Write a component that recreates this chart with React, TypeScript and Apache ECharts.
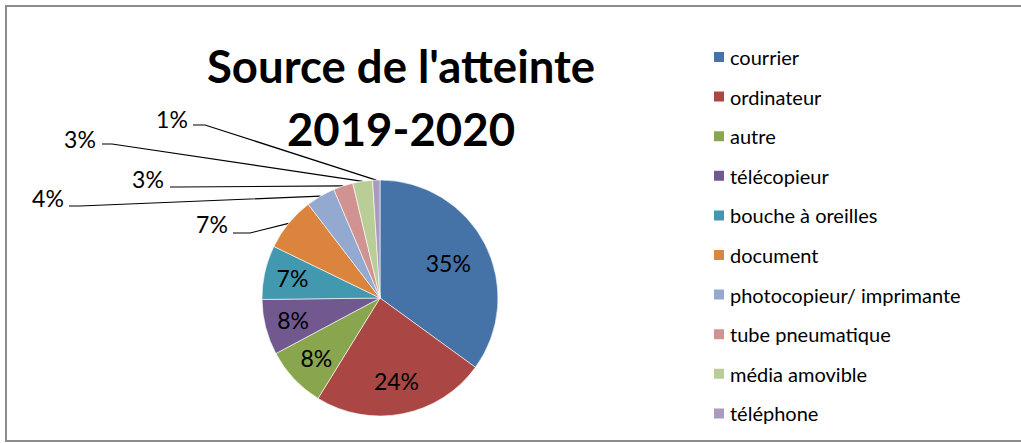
import React, { useEffect, useRef } from "react";
import * as echarts from "echarts";

const categories = [
  "courrier",
  "ordinateur",
  "autre",
  "télécopieur",
  "bouche à oreilles",
  "document",
  "photocopieur/ imprimante",
  "tube pneumatique",
  "média amovible",
  "téléphone",
];
const values = [35.0, 23.8, 8.4, 7.6, 7.4, 7.4, 4.0, 2.7, 2.7, 1.0];
const colors = [
  "#4572A7",
  "#AA4643",
  "#89A54E",
  "#71588F",
  "#4198AF",
  "#DB843D",
  "#93A9CF",
  "#D19392",
  "#B9CD96",
  "#A99BBD",
];
const titleLines = ["Source de l'atteinte", "2019-2020"];

// layout settings (not data)
const CX = 380;
const CY = 298;
const R = 118;
const insideRatio = [0.65, 0.72, 0.74, 0.76, 0.76];
// outside label: [labelCenterX, labelCenterY, lineStartX, bendX, lineY]
const outsideLabels: Record<number, number[]> = {
  5: [212, 224, 233, 250, 233],
  6: [48, 198, 69, 80, 206],
  7: [148, 179, 170, 178, 187],
  8: [80, 139, 102, 112, 144],
  9: [172, 119, 193, 205, 125],
};

export default function App() {
  const ref = useRef<HTMLDivElement>(null);
  useEffect(() => {
    if (!ref.current) return;
    const chart = echarts.init(ref.current, undefined, { renderer: "svg" });
    const total = values.reduce((a, b) => a + b, 0);
    const mids: number[] = [];
    let acc = 0;
    values.forEach((v) => {
      mids.push(((acc + v / 2) / total) * Math.PI * 2);
      acc += v;
    });
    const data = categories.map((name, i) => ({
      name,
      value: values[i],
      itemStyle: { color: colors[i] },
      label: { position: outsideLabels[i] ? "outside" : "inside" },
      labelLine: { show: !!outsideLabels[i] },
    }));
    chart.setOption({
      animation: false,
      backgroundColor: "#ffffff",
      title: {
        text: titleLines.join("\n"),
        left: 401,
        top: 34,
        padding: 0,
        textAlign: "center",
        textStyle: {
          fontFamily: "Lato",
          fontWeight: "bold",
          fontSize: 45.5,
          lineHeight: 63,
          color: "#000",
        },
      },
      legend: {
        orient: "vertical",
        left: 712,
        top: 47,
        padding: 0,
        itemWidth: 12,
        itemHeight: 12,
        itemGap: 19.6,
        icon: "rect",
        data: categories,
        textStyle: {
          fontFamily: "Lato",
          fontSize: 20,
          lineHeight: 20,
          color: "#000",
        },
      },
      graphic: [
        {
          type: "rect",
          shape: { x: 6, y: 6, width: 1030, height: 435 },
          style: { fill: "none", stroke: "#8c8c8c", lineWidth: 2 },
          silent: true,
        },
      ],
      series: [
        {
          type: "pie",
          center: [CX, CY],
          radius: R,
          startAngle: 90,
          clockwise: true,
          avoidLabelOverlap: false,
          data,
          itemStyle: { borderColor: "#ffffff", borderWidth: 0.6 },
          label: {
            show: true,
            fontFamily: "Lato",
            fontSize: 23,
            color: "#000",
            formatter: (p: any) => Math.round(p.value) + "%",
          },
          labelLine: {
            show: true,
            lineStyle: { color: "#000", width: 1.2 },
          },
          labelLayout: (params: any) => {
            const i = params.dataIndex;
            const a = mids[i];
            const o = outsideLabels[i];
            if (o) {
              const p0 = [CX + R * Math.sin(a), CY - R * Math.cos(a)];
              return {
                x: o[0],
                y: o[1],
                align: "center",
                verticalAlign: "middle",
                labelLinePoints: [p0, [o[3], o[4]], [o[2], o[4]]],
              };
            }
            const k = insideRatio[i];
            return {
              x: CX + k * R * Math.sin(a),
              y: CY - k * R * Math.cos(a),
              align: "center",
              verticalAlign: "middle",
            };
          },
        },
      ],
    });
    return () => chart.dispose();
  }, []);
  return (
    <div
      ref={ref}
      style={{ position: "fixed", left: 0, top: 0, width: 1021, height: 443 }}
    />
  );
}
